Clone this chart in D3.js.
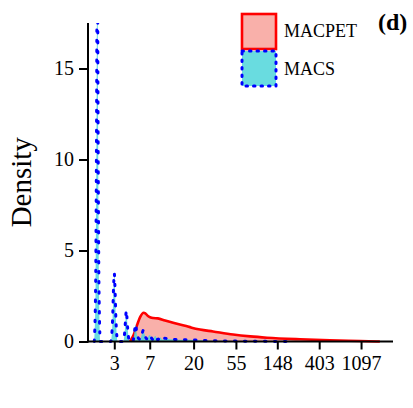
<!DOCTYPE html>
<html><head><meta charset="utf-8">
<script src="https://cdn.jsdelivr.net/npm/d3@7/dist/d3.min.js"></script>
<style>body{margin:0;background:#fff}svg{display:block}</style>
</head><body>
<script>
// Tick values / labels
const xTicks = [3, 7, 20, 55, 148, 403, 1097];
const yTicks = [0, 5, 10, 15];
const seriesNames = ["MACPET", "MACS"];

// MACPET density (x value, density)
const macpetX = [4.37, 4.76, 5.21, 5.58, 6.05, 6.30, 6.72, 7.17, 7.61, 8.5, 10.1, 12.8, 16.3, 19.1, 23.3, 31.8, 51.4, 77.5, 115.6, 255, 523, 1075, 1720];
const macpetY = [0, 0.35, 0.95, 1.35, 1.58, 1.55, 1.40, 1.32, 1.29, 1.27, 1.15, 1.0, 0.86, 0.76, 0.66, 0.55, 0.38, 0.28, 0.21, 0.12, 0.06, 0.025, 0];

// MACS density (x value, density) - spiky because of integer values
const macsX = [1.86, 1.92, 1.97, 2.0, 2.03, 2.08, 2.15,
               2.76, 2.88, 2.95, 3.0, 3.05, 3.12, 3.26,
               3.72, 3.86, 3.95, 4.0, 4.05, 4.15, 4.32,
               4.68, 4.85, 4.95, 5.0, 5.05, 5.18,
               5.55, 5.85, 6.0, 6.2, 6.5, 7.0, 7.5, 8.0, 8.5, 9.0, 9.5, 10, 11, 12, 14, 17, 20, 26, 35, 50, 80, 130, 200];
const macsY = [0, 3, 14, 25, 14, 3, 0,
               0, 1.2, 3.0, 3.75, 3.0, 1.2, 0,
               0, 0.6, 1.4, 1.7, 1.4, 0.6, 0,
               0, 0.5, 0.85, 0.95, 0.8, 0.35,
               0.12, 0.45, 0.62, 0.4, 0.15, 0.36, 0.12, 0.3, 0.1, 0.24, 0.1, 0.18, 0.14, 0.12, 0.1, 0.09, 0.08, 0.06, 0.04, 0.03, 0.015, 0.005, 0];

const W = 413, H = 408;
const svg = d3.select("body").append("svg").attr("width", W).attr("height", H)
  .style("font-family", "'Liberation Serif', 'Times New Roman', serif");

const x = d3.scaleLog().domain([1.6, 2355]).range([88, 393]);
const y = d3.scaleLinear().domain([0, 17.5]).range([341.5, 23]);

svg.append("defs").append("clipPath").attr("id", "clip")
  .append("rect").attr("x", 88).attr("y", 23).attr("width", 305).attr("height", 320);

const macpet = macpetX.map((v, i) => [v, macpetY[i]]);
const macs = macsX.map((v, i) => [v, macsY[i]]);

const area = d3.area().x(d => x(d[0])).y0(y(0)).y1(d => y(d[1])).curve(d3.curveMonotoneX);
const line = d3.line().x(d => x(d[0])).y(d => y(d[1])).curve(d3.curveMonotoneX);

const g = svg.append("g").attr("clip-path", "url(#clip)");
g.append("path").datum(macpet).attr("d", area).attr("fill", "#f9b0aa");
g.append("path").datum(macpet).attr("d", line).attr("fill", "none").attr("stroke", "#ff0000").attr("stroke-width", 2.6);
g.append("path").datum(macs).attr("d", area).attr("fill", "#4fd6da").attr("fill-opacity", 0.85);
g.append("path").datum(macs).attr("d", line).attr("fill", "none").attr("stroke", "#0000ff")
  .attr("stroke-width", 3).attr("stroke-dasharray", "1.5,8.5").attr("stroke-linecap", "round");

// Axes
const xAxis = d3.axisBottom(x).tickValues(xTicks).tickFormat(d => d).tickSize(8).tickPadding(6);
const gx = svg.append("g").attr("transform", `translate(0,${y(0)})`).call(xAxis);
gx.select(".domain").attr("d", `M88,0H393`).attr("stroke-width", 2).attr("stroke", "#000");
gx.selectAll(".tick line").attr("stroke-width", 2).attr("stroke", "#000");
gx.selectAll("text").attr("font-size", 20).attr("fill", "#000").style("font-family", "'Liberation Serif', serif");

const yAxis = d3.axisLeft(y).tickValues(yTicks).tickSize(9).tickPadding(5);
const gy = svg.append("g").attr("transform", `translate(88,0)`).call(yAxis);
gy.select(".domain").attr("d", `M0,23V${y(0)+1}`).attr("stroke-width", 2).attr("stroke", "#000");
gy.selectAll(".tick line").attr("stroke-width", 2).attr("stroke", "#000");
gy.selectAll("text").attr("font-size", 20).attr("fill", "#000").style("font-family", "'Liberation Serif', serif");

svg.append("text").attr("transform", `translate(31,${(23 + 341.5) / 2}) rotate(-90)`)
  .attr("text-anchor", "middle").attr("font-size", 29).text("Density");

// Legend
const leg = svg.append("g");
leg.append("rect").attr("x", 242).attr("y", 14).attr("width", 34).attr("height", 35)
  .attr("fill", "#f9b0aa").attr("stroke", "#ff0000").attr("stroke-width", 2.6);
leg.append("rect").attr("x", 242).attr("y", 51).attr("width", 34).attr("height", 35)
  .attr("fill", "#4fd6da").attr("fill-opacity", 0.85).attr("stroke", "#0000ff").attr("stroke-width", 3)
  .attr("stroke-dasharray", "1.5,6").attr("stroke-linecap", "round");
leg.append("text").attr("x", 284).attr("y", 37).attr("font-size", 18).text(seriesNames[0]);
leg.append("text").attr("x", 284).attr("y", 75).attr("font-size", 18).text(seriesNames[1]);

svg.append("text").attr("x", 378).attr("y", 30).attr("font-size", 24).attr("font-weight", "bold").text("(d)");
</script>
</body></html>
